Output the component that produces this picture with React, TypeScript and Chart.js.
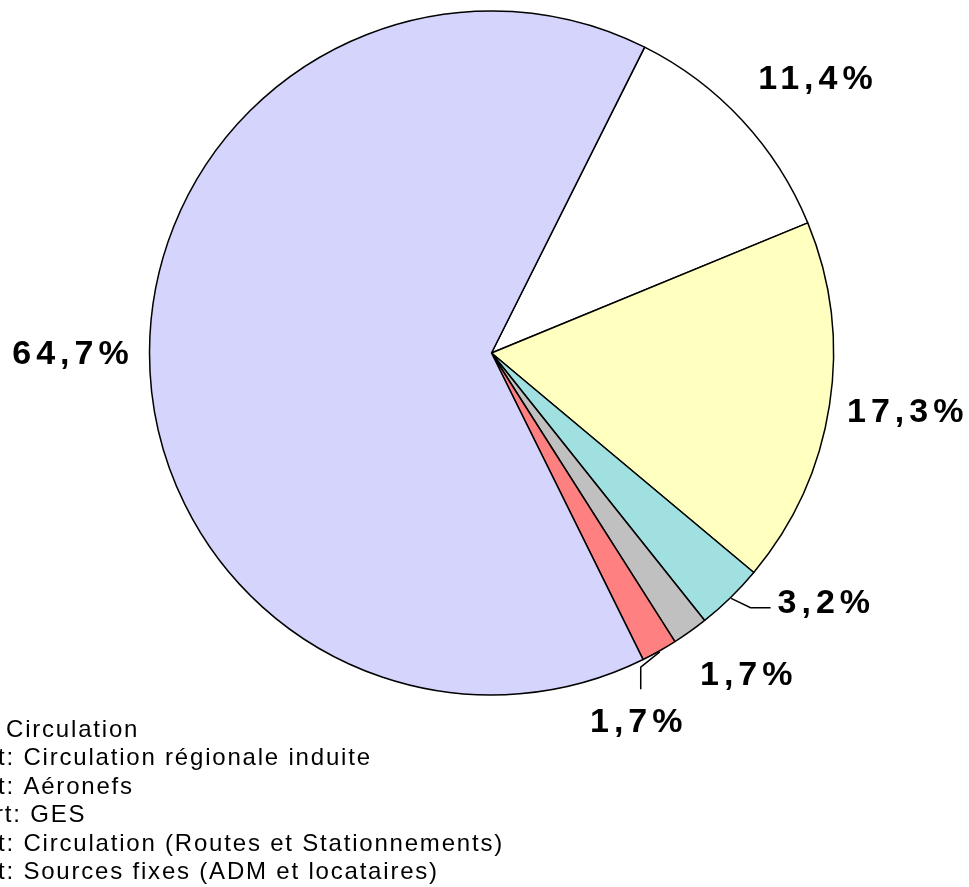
import React, { useEffect, useRef } from 'react';
import { Chart, registerables } from 'chart.js';

Chart.register(...registerables);

// ---- data ----
const categories = [
  'Circulation',
  't: Circulation régionale induite',
  't: Aéronefs',
  'rt: GES',
  't: Circulation (Routes et Stationnements)',
  't: Sources fixes (ADM et locataires)',
];
const shares = [11.4, 17.3, 3.2, 1.7, 1.7, 64.7];
const sliceColors = ['#FFFFFF', '#FFFFC0', '#A0E0E0', '#C0C0C0', '#FF8080', '#D4D4FC'];

// ---- label styling (placement relative to each slice) ----
const labelAngleShift = [2.7, -0.6, -8.7, -2.8, 8.0, -0.4]; // degrees
const labelGap = [82, 76, 74, 69, 55, 79]; // px beyond the rim
const labelLeader = ['none', 'none', 'h', 'none', 'v', 'none'];
const legendStartX = [6, -2, -2, -5, -2, -2];

const LABEL_FONT = 'bold 34px "Liberation Sans", Arial, sans-serif';
const LABEL_LS = 5;
const LEGEND_FONT = '24px "Liberation Sans", Arial, sans-serif';
const LEGEND_LS = 1.8;

const fmt = (v: number) => v.toFixed(1).replace('.', ',') + '%';

const pctLabels = {
  id: 'pctLabels',
  afterDatasetsDraw(chart: any) {
    const ctx = chart.ctx as CanvasRenderingContext2D;
    const meta = chart.getDatasetMeta(0);
    const values = chart.data.datasets[0].data as number[];
    ctx.save();
    ctx.font = LABEL_FONT;
    (ctx as any).letterSpacing = LABEL_LS + 'px';
    ctx.fillStyle = '#000';
    ctx.strokeStyle = '#000';
    ctx.lineWidth = 1.5;
    ctx.textAlign = 'center';
    ctx.textBaseline = 'middle';
    meta.data.forEach((arc: any, i: number) => {
      const { x, y, startAngle, endAngle, outerRadius } = arc.getProps(
        ['x', 'y', 'startAngle', 'endAngle', 'outerRadius'],
        true
      );
      const mid = (startAngle + endAngle) / 2;
      const a = mid + (labelAngleShift[i] * Math.PI) / 180;
      const d = outerRadius + labelGap[i];
      const cx = x + Math.cos(a) * d;
      const cy = y + Math.sin(a) * d;
      const text = fmt(values[i]);
      ctx.fillText(text, cx + LABEL_LS / 2, cy);
      const w = ctx.measureText(text).width - LABEL_LS;
      const ex = x + Math.cos(mid) * (outerRadius + 1);
      const ey = y + Math.sin(mid) * (outerRadius + 1);
      if (labelLeader[i] === 'h') {
        const left = cx - w / 2;
        ctx.beginPath();
        ctx.moveTo(ex, ey);
        ctx.lineTo(left - 27, cy + 4.5);
        ctx.lineTo(left - 7, cy + 4.5);
        ctx.stroke();
      } else if (labelLeader[i] === 'v') {
        const top = cy - 12.5;
        ctx.beginPath();
        ctx.moveTo(ex, ey);
        ctx.lineTo(cx + 4.5, top - 43);
        ctx.lineTo(cx + 4.5, top - 21);
        ctx.stroke();
      }
    });
    ctx.restore();
  },
  afterDraw(chart: any) {
    const ctx = chart.ctx as CanvasRenderingContext2D;
    ctx.save();
    ctx.font = LEGEND_FONT;
    (ctx as any).letterSpacing = LEGEND_LS + 'px';
    ctx.fillStyle = '#000';
    ctx.textAlign = 'left';
    ctx.textBaseline = 'alphabetic';
    (chart.data.labels as string[]).forEach((lab, i) => {
      ctx.fillText(lab, legendStartX[i], 737 + i * 28.4);
    });
    ctx.restore();
  },
};

export default function App() {
  const ref = useRef<HTMLCanvasElement | null>(null);
  useEffect(() => {
    if (!ref.current) return;
    const chart = new Chart(ref.current, {
      type: 'pie',
      data: {
        labels: categories,
        datasets: [
          {
            data: shares,
            backgroundColor: sliceColors,
            borderColor: '#000000',
            borderWidth: 1.5,
            radius: 342,
          } as any,
        ],
      },
      options: {
        responsive: false,
        animation: false,
        devicePixelRatio: 1,
        rotation: 26.6,
        layout: { padding: { left: 14, right: 0, top: 0, bottom: 181 } },
        plugins: {
          legend: { display: false },
          tooltip: { enabled: false },
          title: { display: false },
        },
        events: [],
      } as any,
      plugins: [pctLabels as any],
    });
    return () => chart.destroy();
  }, []);
  return (
    <div style={{ position: 'fixed', left: 0, top: 0, width: 969, height: 887, background: '#fff' }}>
      <canvas ref={ref} width={969} height={887} style={{ display: 'block' }} />
    </div>
  );
}
